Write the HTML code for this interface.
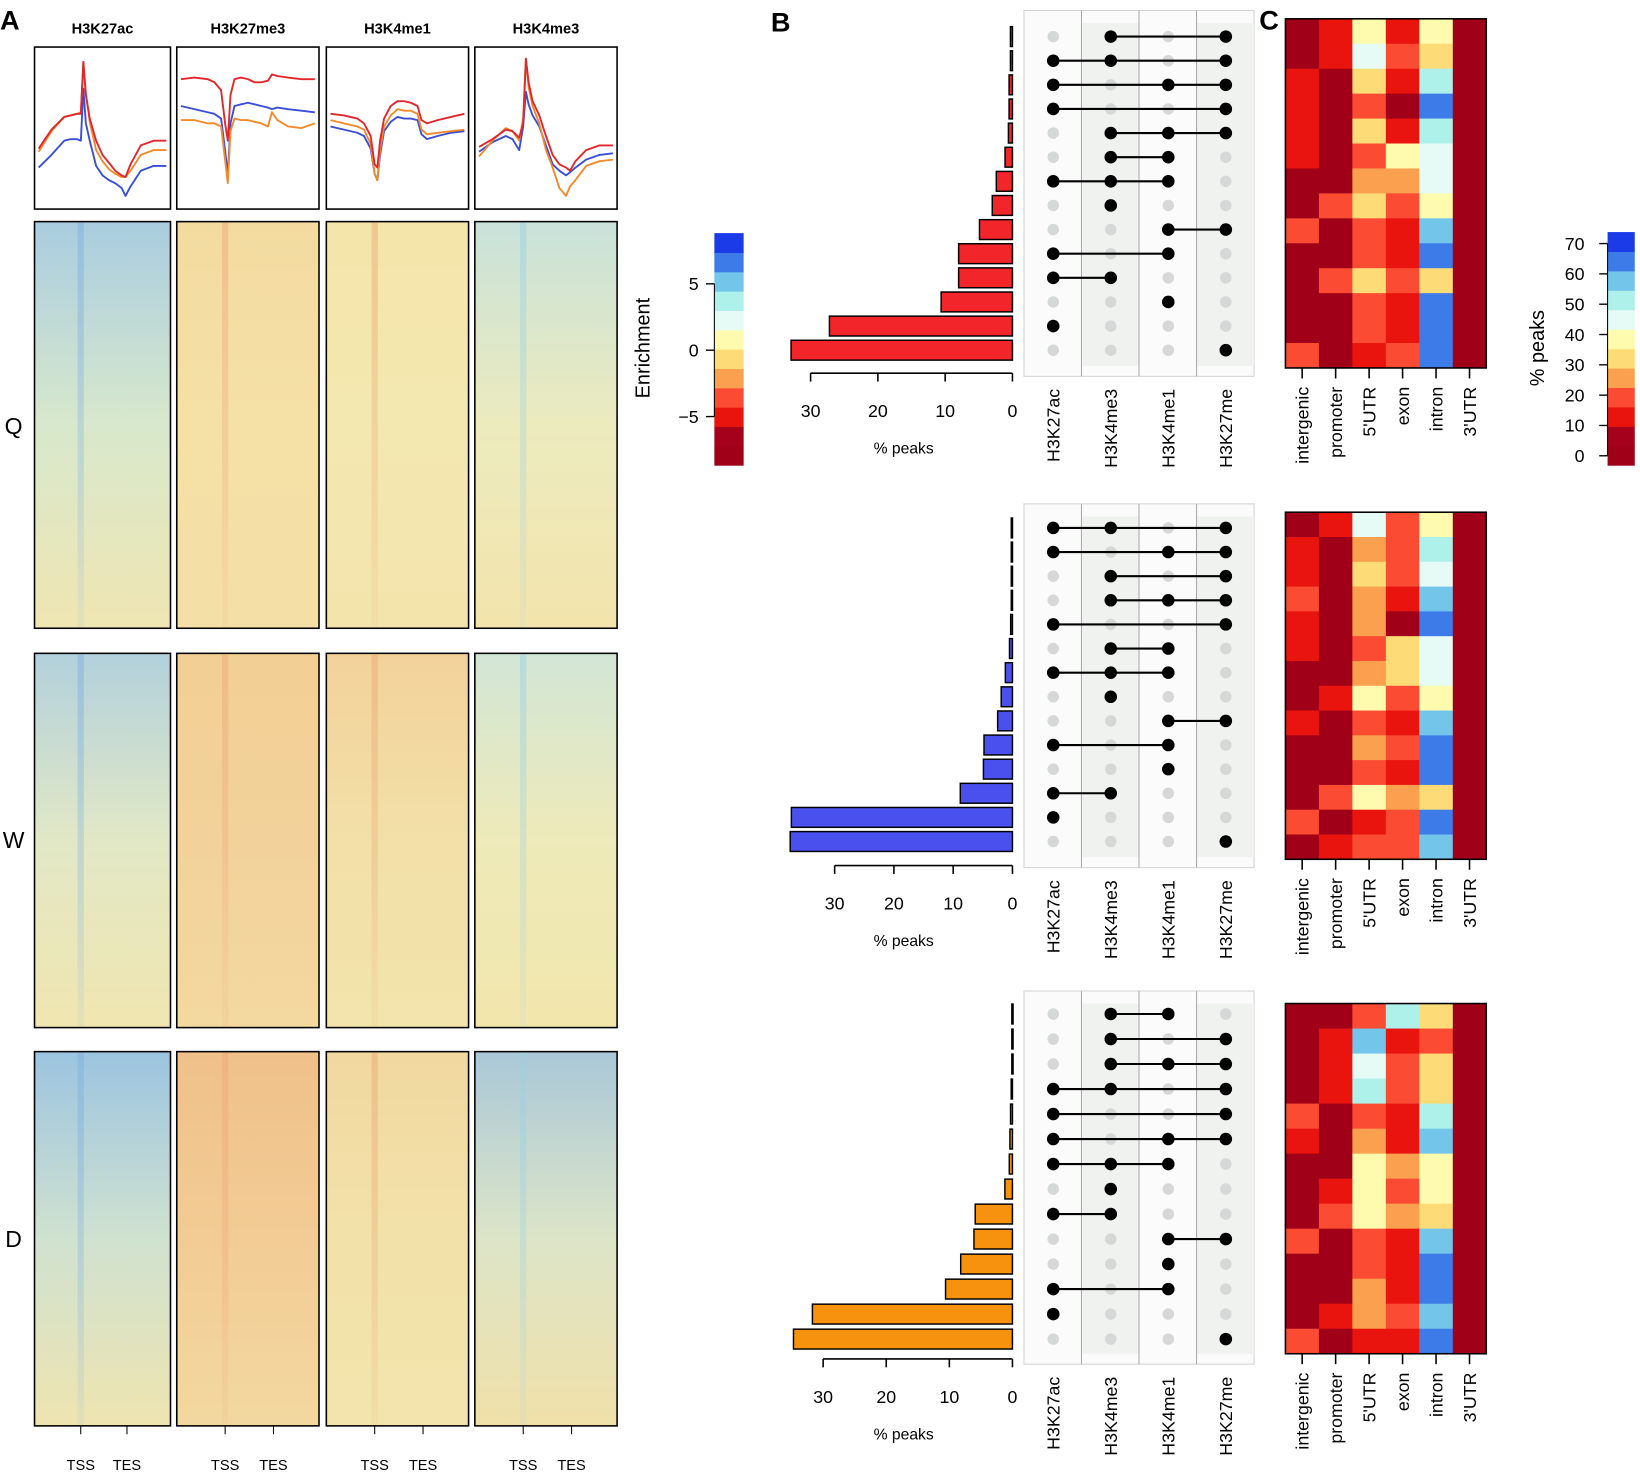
<!DOCTYPE html>
<html><head><meta charset="utf-8">
<style>
html,body{margin:0;padding:0;background:#fff;}
svg{display:block;font-family:"Liberation Sans",sans-serif;}
</style></head>
<body>
<svg id="fig" width="1640" height="1475" viewBox="0 0 1568 1411" preserveAspectRatio="none" xmlns="http://www.w3.org/2000/svg">
<defs id="defs"></defs>
</svg>
<script>
// ---------- DATA ----------
const histones = ['H3K27ac','H3K27me3','H3K4me1','H3K4me3'];
const profilePos = [0,0.1,0.2,0.25,0.3,0.33,0.35,0.37,0.4,0.45,0.5,0.55,0.6,0.65,0.68,0.72,0.8,0.9,1.0];
const profRed = [
 [37,49,57,58,59,59,92,71,56,42,33,28,23,20,19,27,39,42,42],
 [81,82,81,79,74,53,42,71,81,82,81,79,79,80,84,83,82,81,81],
 [59,58,56,53,45,27,25,42,56,64,67,67,66,64,55,53,55,57,59],
 [38,43,49,48,44,53,94,79,67,58,45,33,27,25,23,29,36,39,39]
];
const profOrange = [
 [35,48,57,58,59,60,92,72,54,36,29,24,21,19,19,23,33,36,36],
 [55,55,53,53,51,30,15,48,56,55,55,54,53,51,60,55,51,50,53],
 [55,53,51,49,40,21,17,36,51,58,62,61,61,59,49,46,47,48,49],
 [32,42,50,48,42,56,94,76,64,53,36,25,12,7,13,17,26,29,30]
];
const profBlue = [
 [25,33,42,43,43,42,75,53,42,26,20,17,15,12,7,13,23,26,26],
 [64,62,60,59,56,36,20,53,64,65,66,65,64,63,62,63,62,61,60],
 [51,49,47,45,37,21,17,33,48,54,57,56,56,55,46,43,45,47,48],
 [35,41,45,43,36,51,73,65,58,51,39,27,23,20,22,25,30,33,34]
];
const setNames = ['H3K27ac','H3K4me3','H3K4me1','H3K27me'];
const upsetQ = ['0101','1101','1011','1001','0111','0110','1110','0100','0011','1010','1100','0010','1000','0001'];
const upsetQVals = [0.3,0.3,0.5,0.5,0.6,1.1,2.4,3.0,4.9,8.0,8.0,10.6,27.2,32.9];
const upsetW = ['1101','1011','0101','0111','1001','0110','1110','0100','0011','1010','0010','1100','1000','0001'];
const upsetWVals = [0.2,0.2,0.2,0.2,0.3,0.5,1.2,1.9,2.5,4.8,4.9,8.8,37.3,37.5];
const upsetD = ['0110','0101','0111','1101','1001','1011','1110','0100','1100','0011','0010','1010','1000','0001'];
const upsetDVals = [0.1,0.1,0.1,0.2,0.3,0.4,0.5,1.2,5.9,6.1,8.2,10.6,31.7,34.7];
const regions = ['intergenic','promoter',"5'UTR",'exon','intron',"3'UTR"];
const annotQ = [[3,12,37,12,37,3],[3,12,43,18,31,3],[12,3,31,12,49,3],[12,3,18,3,62,3],[12,3,31,12,49,3],[12,3,18,37,43,3],[3,3,25,25,43,3],[3,18,31,18,37,3],[18,3,18,12,55,3],[3,3,18,12,62,3],[3,18,31,18,31,3],[3,3,18,12,62,3],[3,3,18,12,62,3],[18,3,12,18,62,3]];
const annotW = [[3,12,43,18,37,3],[12,3,25,18,49,3],[12,3,31,18,43,3],[18,3,25,12,55,3],[12,3,25,3,62,3],[12,3,18,31,43,3],[3,3,25,31,43,3],[3,12,37,18,37,3],[12,3,18,12,55,3],[3,3,25,18,62,3],[3,3,18,12,62,3],[3,18,37,25,31,3],[18,3,12,18,62,3],[3,12,18,18,55,3]];
const annotD = [[3,3,18,49,31,3],[3,12,55,12,18,3],[3,12,43,18,31,3],[3,12,49,18,31,3],[18,3,18,12,49,3],[12,3,25,12,55,3],[3,3,37,25,37,3],[3,12,37,18,37,3],[3,18,37,25,31,3],[18,3,18,12,55,3],[3,3,18,12,62,3],[3,3,25,12,62,3],[3,12,25,18,55,3],[18,3,12,12,62,3]];
const barTicks = [30,20,10,0];
const enrichTicks = [5,0,-5];
const peakTicks = [70,60,50,40,30,20,10,0];
const palette = ['#a00018','#a5001c','#e8140d','#fb4b33','#fba04e','#fddc78','#fefaae','#e6fbf6','#aef0ea','#74c5ea','#3d7ce8','#1c3be8'];

// ---------- LAYOUT ----------
const svg = document.getElementById('fig');
const defs = document.getElementById('defs');
const NS = 'http://www.w3.org/2000/svg';
function el(tag, parent){ const e=document.createElementNS(NS,tag); (parent||svg).appendChild(e); return e; }
function txt(parent, x, y, s, size, anchor, weight, rot){
  const t=el('text',parent); t.setAttribute('x',x); t.setAttribute('y',y);
  t.setAttribute('font-size',size); t.setAttribute('text-anchor',anchor||'middle');
  if(weight) t.setAttribute('font-weight',weight);
  if(rot) t.setAttribute('transform','rotate(-90 '+x+' '+y+')');
  t.textContent=s; return t;
}
const colX = [[33,163],[169,305],[312,448],[454,590]];
const profY = [45,200];
const groups = [
 {label:'Q', hm:[212,601], labY:415, upset:upsetQ, vals:upsetQVals, barColor:'#f2252b', rows:[35,335], axisY:357, x30:775, box:[10,360], annot:annotQ, ann:[18,352],
  top:['#a9cde0','#f3dba0','#f4e5aa','#c9e2da'], mid:['#d8e8cc','#f5e0a6','#f3e8b0','#ecebbe'], bot:['#efe6b2','#f4e0a6','#f3e4ac','#f3e4ac']},
 {label:'W', hm:[625,983], labY:811, upset:upsetW, vals:upsetWVals, barColor:'#4a50ee', rows:[505,805], axisY:828, x30:798, box:[482,830], annot:annotW, ann:[490,822],
  top:['#b2d1dc','#f2cf94','#f2d29a','#d2e6d6'], mid:['#e2e8c6','#f2d29a','#f2e0a8','#eeeab9'], bot:['#f0e6b0','#f3d8a0','#f2e4ac','#f2e6ac']},
 {label:'D', hm:[1006,1364], labY:1193, upset:upsetD, vals:upsetDVals, barColor:'#f7920f', rows:[970,1281], axisY:1300, x30:787, box:[948,1305], annot:annotD, ann:[960,1295],
  top:['#9cc4e0','#f0c08a','#f1d8a0','#aac8d8'], mid:['#d0e2d0','#f2cc94','#f2e2aa','#dde5c8'], bot:['#eee4b0','#f2d8a0','#f2e4ac','#f0e0a8']}
];
const stripeCol = ['#7fb0dc','#eda878','#eda878','#9fd0e0'];

// ---------- PANEL A ----------
const gA = el('g');  
txt(gA,0,28,'A',26,'start','bold');
histones.forEach((h,i)=>{
  const t=txt(gA,(colX[i][0]+colX[i][1])/2,32,h,14,'middle','bold');
  
  
});
const series = [['red',profRed,'#e3262b'],['orange',profOrange,'#f28a2c'],['blue',profBlue,'#3a4fd6']];
histones.forEach((h,i)=>{
  const [x0,x1]=colX[i];
  const g=el('g',gA);
  
  
  const px = f => x0+4+f*(x1-x0-8);
  const py = v => profY[1]-2-(v/100)*(profY[1]-profY[0]-4);
  [2,1,0].forEach(si=>{
    const [nm,arr,col]=series[si];
    const pts=profilePos.map((p,k)=>px(p).toFixed(1)+','+py(arr[i][k]).toFixed(1)).join(' ');
    const pl=el('polyline',g); pl.setAttribute('points',pts);
    pl.setAttribute('fill','none'); pl.setAttribute('stroke',col); pl.setAttribute('stroke-width','1.8');
    pl.setAttribute('stroke-linejoin','round');
    
    
  });
  const r=el('rect',g); r.setAttribute('x',x0); r.setAttribute('y',profY[0]); r.setAttribute('width',x1-x0); r.setAttribute('height',profY[1]-profY[0]);
  r.setAttribute('fill','none'); r.setAttribute('stroke','#000'); r.setAttribute('stroke-width','1.5');
  
  
});
groups.forEach((G,gi)=>{
  const lt=txt(gA,13,G.labY,G.label,22,'middle');
  
  
  histones.forEach((h,i)=>{
    const [x0,x1]=colX[i]; const [y0,y1]=G.hm;
    const gid='hg'+gi+'_'+i;
    const lg=el('linearGradient',defs); lg.setAttribute('id',gid); lg.setAttribute('x1','0'); lg.setAttribute('y1','0'); lg.setAttribute('x2','0'); lg.setAttribute('y2','1');
    [[0,G.top[i]],[0.5,G.mid[i]],[1,G.bot[i]]].forEach(([o,c])=>{const s=el('stop',lg); s.setAttribute('offset',o); s.setAttribute('stop-color',c);});
    const sid='sg'+gi+'_'+i;
    const sg=el('linearGradient',defs); sg.setAttribute('id',sid); sg.setAttribute('x1','0'); sg.setAttribute('y1','0'); sg.setAttribute('x2','0'); sg.setAttribute('y2','1');
    [[0,0.5],[0.6,0.3],[1,0.1]].forEach(([o,a])=>{const s=el('stop',sg); s.setAttribute('offset',o); s.setAttribute('stop-color',stripeCol[i]); s.setAttribute('stop-opacity',a);});
    const r=el('rect',gA); r.setAttribute('x',x0); r.setAttribute('y',y0); r.setAttribute('width',x1-x0); r.setAttribute('height',y1-y0);
    r.setAttribute('fill','url(#'+gid+')'); r.setAttribute('stroke','#000'); r.setAttribute('stroke-width','1.5');
    
    
    const sx=x0+(x1-x0)*0.34;
    const st=el('rect',gA); st.setAttribute('x',sx-3); st.setAttribute('y',y0+1); st.setAttribute('width',6); st.setAttribute('height',y1-y0-2);
    st.setAttribute('fill','url(#'+sid+')');
    
    
  });
});
colX.forEach(([x0,x1],i)=>{
  const w=x1-x0;
  [['TSS',0.34],['TES',0.68]].forEach(([s,f])=>{
    const x=x0+w*f;
    const l=el('line',gA); l.setAttribute('x1',x); l.setAttribute('x2',x); l.setAttribute('y1',1364); l.setAttribute('y2',1372); l.setAttribute('stroke','#000');
     
    const t=txt(gA,x,1406,s,14,'middle');
     
  });
});
function colorbar(parent, x0, x1, y0, y1, ticks, tickY, labelX, title, titleX, name){
  const g=el('g',parent);  
  const n=palette.length, h=(y1-y0)/n;
  palette.forEach((c,k)=>{
    const r=el('rect',g); r.setAttribute('x',x0); r.setAttribute('y',y1-(k+1)*h); r.setAttribute('width',x1-x0); r.setAttribute('height',h+0.5); r.setAttribute('fill',c);
     
  });
  const ax=el('line',g); ax.setAttribute('x1',x0); ax.setAttribute('x2',x0); ax.setAttribute('y1',tickY(ticks[0])); ax.setAttribute('y2',tickY(ticks[ticks.length-1])); ax.setAttribute('stroke','#000');
  ticks.forEach(v=>{
    const y=tickY(v);
    const l=el('line',g); l.setAttribute('x1',x0-8); l.setAttribute('x2',x0); l.setAttribute('y1',y); l.setAttribute('y2',y); l.setAttribute('stroke','#000'); l.setAttribute('stroke-width','1.3');
    const t=txt(g,labelX,y+6,String(v).replace('-','\u2212'),17,'end');
     
  });
  const tt=txt(g,titleX,333,title,19,'middle',null,true);
   
}
colorbar(gA,683,711,223,445,enrichTicks,v=>335-v*12.7,668,'Enrichment',621,'enrichment-colorbar');

// ---------- PANEL B ----------
const gB=el('g');  
txt(gB,737,30,'B',26,'start','bold');
const mCols=[1007,1062,1117,1172];
groups.forEach((G,gi)=>{
  const g=el('g',gB);  
  const n=G.upset.length, step=(G.rows[1]-G.rows[0])/(n-1);
  const ry=k=>G.rows[0]+k*step;
  const sc=(968-G.x30)/30;
  const bx=v=>968-v*sc;
  const [b0,b1]=G.box;
  const bg=el('rect',g); bg.setAttribute('x',979); bg.setAttribute('y',b0); bg.setAttribute('width',220); bg.setAttribute('height',b1-b0); bg.setAttribute('fill','#fafbfa'); bg.setAttribute('stroke','#d2d4d2');
   
  [1,3].forEach(c=>{
    const s=el('rect',g); s.setAttribute('x',979+c*55); s.setAttribute('y',b0+12); s.setAttribute('width',55); s.setAttribute('height',b1-b0-22); s.setAttribute('fill','#f0f2f0');
     
  });
  [1034,1089,1144].forEach(x=>{
    const l=el('line',g); l.setAttribute('x1',x); l.setAttribute('x2',x); l.setAttribute('y1',b0); l.setAttribute('y2',b1); l.setAttribute('stroke','#aaaaaa'); l.setAttribute('stroke-width','1');
     
  });
  G.upset.forEach((pat,k)=>{
    const y=ry(k);
    const v=G.vals[k];
    const b=el('rect',g); b.setAttribute('x',bx(v)); b.setAttribute('y',y-9.5); b.setAttribute('width',Math.max(968-bx(v),1.2)); b.setAttribute('height',19);
    b.setAttribute('fill',G.barColor); b.setAttribute('stroke','#000'); b.setAttribute('stroke-width','1.4');
     
    const on=[...pat].map(c=>c==='1');
    on.forEach((o,j)=>{
      if(o) return;
      const c=el('circle',g); c.setAttribute('cx',mCols[j]); c.setAttribute('cy',y); c.setAttribute('r',5.5); c.setAttribute('fill','#d5d8d7');
       
    });
    const idx=on.map((o,j)=>o?j:-1).filter(j=>j>=0);
    if(idx.length>1){
      const l=el('line',g); l.setAttribute('x1',mCols[idx[0]]); l.setAttribute('x2',mCols[idx[idx.length-1]]); l.setAttribute('y1',y); l.setAttribute('y2',y); l.setAttribute('stroke','#000'); l.setAttribute('stroke-width','2');
       
    }
    on.forEach((o,j)=>{
      if(!o) return;
      const c=el('circle',g); c.setAttribute('cx',mCols[j]); c.setAttribute('cy',y); c.setAttribute('r',6); c.setAttribute('fill','#000');
       
    });
  });
  const ax=el('line',g); ax.setAttribute('x1',G.x30); ax.setAttribute('x2',968); ax.setAttribute('y1',G.axisY); ax.setAttribute('y2',G.axisY); ax.setAttribute('stroke','#000'); ax.setAttribute('stroke-width','1.5');
   
  barTicks.forEach(v=>{
    const x=bx(v);
    const l=el('line',g); l.setAttribute('x1',x); l.setAttribute('x2',x); l.setAttribute('y1',G.axisY); l.setAttribute('y2',G.axisY+8); l.setAttribute('stroke','#000'); l.setAttribute('stroke-width','1.5');
    const t=txt(g,x,G.axisY+42,String(v),17,'middle');
     
  });
  const pt=txt(g,864,G.axisY+77,'% peaks',15,'middle');
   
  setNames.forEach((s,j)=>{
    const t=txt(g,mCols[j]+6,b1+12,s,17,'end',null,true);
     
  });
});

// ---------- PANEL C ----------
const gC=el('g');  
txt(gC,1204,28,'C',26,'start','bold');
const hx0=1229, hx1=1421, cw=(hx1-hx0)/regions.length;
const binOf=v=>Math.max(0,Math.min(palette.length-1,Math.floor((v+3)/6.42)));
groups.forEach((G,gi)=>{
  const g=el('g',gC);  
  const [y0,y1]=G.ann; const rh=(y1-y0)/G.annot.length;
  G.annot.forEach((row,r)=>{
    row.forEach((v,c)=>{
      const rc=el('rect',g); rc.setAttribute('x',hx0+c*cw); rc.setAttribute('y',y0+r*rh); rc.setAttribute('width',cw+0.4); rc.setAttribute('height',rh+0.4); rc.setAttribute('fill',palette[binOf(v)]);
       
    });
  });
  const fr=el('rect',g); fr.setAttribute('x',hx0); fr.setAttribute('y',y0); fr.setAttribute('width',hx1-hx0); fr.setAttribute('height',y1-y0); fr.setAttribute('fill','none'); fr.setAttribute('stroke','#000'); fr.setAttribute('stroke-width','1.5');
  regions.forEach((s,c)=>{
    const x=hx0+(c+0.5)*cw;
    const l=el('line',g); l.setAttribute('x1',x); l.setAttribute('x2',x); l.setAttribute('y1',y1); l.setAttribute('y2',y1+10); l.setAttribute('stroke','#000'); l.setAttribute('stroke-width','1.5');
    const t=txt(g,x+6,y1+18,s,17,'end',null,true);
     
  });
});
colorbar(gC,1537,1563,222,445,peakTicks,v=>436-v*2.9,1515,'% peaks',1476,'peaks-colorbar');
</script>
</body></html>
